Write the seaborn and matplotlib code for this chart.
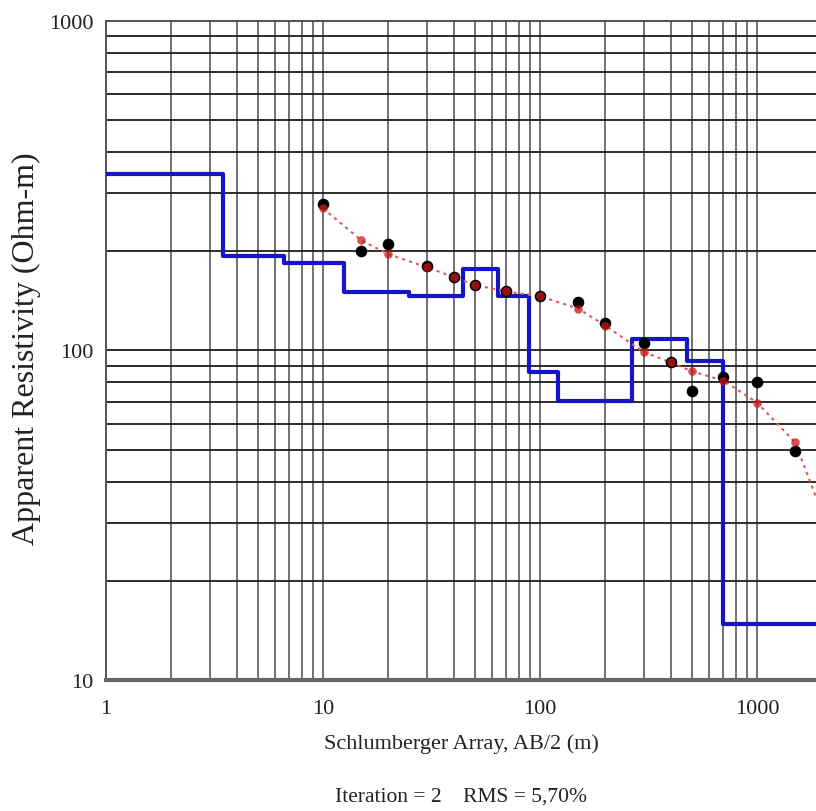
import matplotlib
matplotlib.use("Agg")
import matplotlib.pyplot as plt
import seaborn as sns
import pandas as pd
from matplotlib.ticker import FixedLocator, LogLocator, NullFormatter

# Electrode spacing AB/2 (m)
spacing = [10, 15, 20, 30, 40, 50, 70, 100, 150, 200, 300, 400, 500, 700, 1000, 1500]
# Field (observed) apparent resistivity (Ohm-m)
rho_observed = [278, 201, 210, 181, 167, 158, 151, 146, 140, 121, 105, 92, 75.5, 83, 80, 49.5]
# Calculated curve from the inverted model (Ohm-m)
spacing_calc = [10, 15, 20, 30, 40, 50, 70, 100, 150, 200, 300, 400, 500, 700, 1000, 1500, 2000]
rho_calc = [270, 216, 196, 179, 167, 158, 151, 146, 134, 119, 99, 92, 86.5, 81, 69.5, 52.6, 32]

# Layered model: top depth of each layer (m) and its resistivity (Ohm-m)
layer_top = [1, 3.45, 6.6, 12.5, 24.9, 44, 64, 89, 121, 265, 476, 697]
layer_rho = [343, 194, 184, 150, 146, 177, 146, 86, 70.5, 108, 92.6, 14.8]
model_end = 2500

x_ticks = [1, 10, 100, 1000]
y_ticks = [10, 100, 1000]

sns.set_theme(style="white")
plt.rcParams["font.family"] = ["Liberation Serif", "DejaVu Serif"]

fig = plt.figure(figsize=(8.16, 8.12), dpi=100)
ax = fig.add_axes([0.130, 0.1613, 0.870, 0.8117])

model = pd.DataFrame({"depth": layer_top + [model_end],
                      "rho": layer_rho + [layer_rho[-1]]})
obs = pd.DataFrame({"ab2": spacing, "rho": rho_observed})
calc = pd.DataFrame({"ab2": spacing_calc, "rho": rho_calc})

ax.set_xscale("log")
ax.set_yscale("log")
ax.set_xlim(1, 1871)
ax.set_ylim(10, 1000)

# Log grid: every decade subdivision
ax.xaxis.set_major_locator(FixedLocator(x_ticks))
ax.yaxis.set_major_locator(FixedLocator(y_ticks))
ax.xaxis.set_minor_locator(LogLocator(base=10, subs=range(2, 10), numticks=20))
ax.yaxis.set_minor_locator(LogLocator(base=10, subs=range(2, 10), numticks=20))
ax.xaxis.set_minor_formatter(NullFormatter())
ax.yaxis.set_minor_formatter(NullFormatter())
ax.set_xticklabels([str(v) for v in x_ticks])
ax.set_yticklabels([str(v) for v in y_ticks])

ax.grid(True, which="both", axis="y", color="#1c1c1c", linewidth=1.3)
ax.grid(True, which="both", axis="x", color="#4a4a4a", linewidth=1.1)
ax.set_axisbelow(True)

sns.lineplot(data=model, x="depth", y="rho", ax=ax, drawstyle="steps-post",
             estimator=None, sort=False, color="#1414c8", linewidth=3.0,
             zorder=3)

sns.lineplot(data=calc, x="ab2", y="rho", ax=ax, estimator=None,
             color="#e05858", linewidth=1.5, dashes=False, zorder=4,
             linestyle=(0, (1.5, 2.0)))

sns.scatterplot(data=obs, x="ab2", y="rho", ax=ax, color="black", s=70,
                marker="o", edgecolor="black", linewidth=0, zorder=5)

sns.scatterplot(data=calc.iloc[:-1], x="ab2", y="rho", ax=ax, color="#c81818",
                s=38, marker="o", linewidth=0, alpha=0.75, zorder=6)

ax.tick_params(axis="both", which="both", length=0, labelsize=16,
               labelcolor="#222222")
ax.tick_params(axis="x", pad=14)
ax.tick_params(axis="y", pad=9)

for side in ("left", "top"):
    ax.spines[side].set_color("#555555")
    ax.spines[side].set_linewidth(1.4)
ax.spines["bottom"].set_color("#666666")
ax.spines["bottom"].set_linewidth(3)
ax.spines["right"].set_visible(False)

ax.set_xlabel("")
ax.set_ylabel("")

fig.text(0.565, 0.0835, "Schlumberger Array, AB/2 (m)", ha="center",
         va="center", fontsize=16, color="#222222")
fig.text(0.565, 0.019, "Iteration = 2    RMS = 5,70%", ha="center",
         va="center", fontsize=15.5, color="#222222")
fig.text(0.032, 0.571, "Apparent Resistivity (Ohm-m)", rotation=90,
         ha="center", va="center", fontsize=23, color="#222222")

fig.savefig("out.png", dpi=100)
